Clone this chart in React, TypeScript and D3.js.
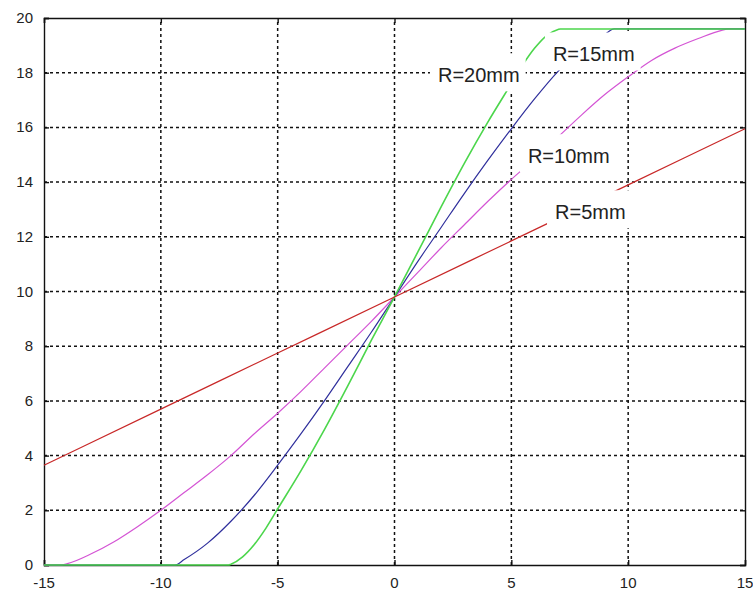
import React, { useEffect, useRef } from 'react';
import * as d3 from 'd3';

// x ticks / y ticks
const xTicks = [-15, -10, -5, 0, 5, 10, 15];
const yTicks = [0, 2, 4, 6, 8, 10, 12, 14, 16, 18, 20];

// R=5mm (red)
const r5X = [-15, -10, -5, 0, 5, 10, 15];
const r5Y = [3.65, 5.7, 7.75, 9.8, 11.85, 13.9, 15.95];

// R=10mm (magenta)
const r10X = [-15, -14.3, -14, -13, -12, -11, -10, -9, -8, -7, -6, -5, -4, -3, -2, -1, 0, 1, 2, 3, 4, 5, 6, 7, 8, 9, 10, 11, 12, 13, 14, 14.3, 15];
const r10Y = [0, 0, 0.05, 0.4, 0.85, 1.4, 2.0, 2.65, 3.3, 4.0, 4.8, 5.55, 6.35, 7.2, 8.05, 8.9, 9.8, 10.7, 11.6, 12.45, 13.3, 14.1, 14.85, 15.65, 16.45, 17.2, 17.85, 18.45, 18.9, 19.25, 19.55, 19.6, 19.6];

// R=15mm (blue)
const r15X = [-15, -9.4, -9, -8, -7, -6, -5, -4, -3, -2, -1, 0, 1, 2, 3, 4, 5, 6, 7, 8, 9, 9.4, 15];
const r15Y = [0, 0, 0.2, 0.8, 1.6, 2.55, 3.65, 4.8, 6.0, 7.25, 8.5, 9.8, 11.1, 12.35, 13.6, 14.8, 15.95, 17.05, 18.05, 18.85, 19.4, 19.6, 19.6];

// R=20mm (green)
const r20X = [-15, -7.1, -7, -6.5, -6, -5.5, -5, -4, -3, -2, -1, 0, 1, 2, 3, 4, 5, 5.5, 6, 6.5, 7, 7.1, 15];
const r20Y = [0, 0, 0.03, 0.3, 0.75, 1.35, 2.05, 3.45, 4.95, 6.55, 8.2, 9.8, 11.45, 13.1, 14.7, 16.2, 17.6, 18.3, 18.9, 19.35, 19.58, 19.6, 19.6];

const labels = ['R=20mm', 'R=15mm', 'R=10mm', 'R=5mm'];

const App = () => {
    const ref = useRef<SVGSVGElement>(null);

    useEffect(() => {
        const width = 753;
        const height = 591;
        const margin = { top: 18, right: 8, bottom: 26, left: 44 };

        const svg = d3.select(ref.current);
        svg.selectAll('*').remove();

        const x = d3.scaleLinear()
            .domain([-15, 15])
            .range([margin.left, width - margin.right]);

        const y = d3.scaleLinear()
            .domain([0, 20])
            .range([height - margin.bottom, margin.top]);

        const font = 'Arial, "Liberation Sans", sans-serif';

        // grid (dotted)
        const grid = svg.append('g')
            .attr('stroke', '#111')
            .attr('stroke-width', 1.5)
            .attr('stroke-dasharray', '3,3');
        grid.selectAll('line.v')
            .data(xTicks.slice(1, -1))
            .enter().append('line')
            .attr('x1', d => x(d)).attr('x2', d => x(d))
            .attr('y1', y(0)).attr('y2', y(20));
        grid.selectAll('line.h')
            .data(yTicks.slice(1, -1))
            .enter().append('line')
            .attr('x1', x(-15)).attr('x2', x(15))
            .attr('y1', d => y(d)).attr('y2', d => y(d));

        // axes (ticks inward, frame)
        const axisB = d3.axisBottom(x).tickValues(xTicks).tickSize(-5).tickFormat(() => '');
        const axisT = d3.axisTop(x).tickValues(xTicks).tickSize(-5).tickFormat(() => '');
        const axisL = d3.axisLeft(y).tickValues(yTicks).tickSize(-5).tickFormat(() => '');
        const axisR = d3.axisRight(y).tickValues(yTicks).tickSize(-5).tickFormat(() => '');
        [
            [axisB, `translate(0,${y(0)})`],
            [axisT, `translate(0,${y(20)})`],
            [axisL, `translate(${x(-15)},0)`],
            [axisR, `translate(${x(15)},0)`],
        ].forEach(([ax, tr]: any) => {
            const g = svg.append('g').attr('transform', tr).call(ax);
            g.selectAll('path, line').attr('stroke', '#111').attr('stroke-width', 1.4);
        });

        // tick labels
        svg.append('g').selectAll('text')
            .data(xTicks)
            .enter().append('text')
            .attr('x', d => x(d))
            .attr('y', 588)
            .attr('text-anchor', 'middle')
            .attr('font-family', font)
            .attr('font-size', 15)
            .attr('fill', '#222')
            .text(d => String(d));
        svg.append('g').selectAll('text')
            .data(yTicks)
            .enter().append('text')
            .attr('x', 33)
            .attr('y', d => y(d) + 5)
            .attr('text-anchor', 'end')
            .attr('font-family', font)
            .attr('font-size', 15)
            .attr('fill', '#222')
            .text(d => String(d));

        // curves
        const series = [
            { xs: r10X, ys: r10Y, color: '#d454d4', w: 1.2 },
            { xs: r15X, ys: r15Y, color: '#2f2f9c', w: 1.2 },
            { xs: r20X, ys: r20Y, color: '#4cd64c', w: 1.6 },
            { xs: r5X, ys: r5Y, color: '#c82828', w: 1.2 },
        ];
        const line = d3.line().curve(d3.curveMonotoneX);
        series.forEach(s => {
            const pts = s.xs.map((v, i) => [x(v), y(s.ys[i])] as [number, number]);
            svg.append('path')
                .attr('d', line(pts))
                .attr('fill', 'none')
                .attr('stroke', s.color)
                .attr('stroke-width', s.w);
        });

        // curve labels with white boxes
        const labelAt = [
            [1.86, 17.65],
            [6.78, 18.41],
            [5.71, 14.69],
            [6.87, 12.64],
        ];
        labels.forEach((t, i) => {
            const g = svg.append('g');
            const rect = g.append('rect').attr('fill', '#fff');
            const txt = g.append('text')
                .attr('x', x(labelAt[i][0]))
                .attr('y', y(labelAt[i][1]))
                .attr('font-family', font)
                .attr('font-size', 20)
                .attr('fill', '#222')
                .text(t);
            const bb = (txt.node() as SVGTextElement).getBBox();
            rect.attr('x', bb.x - 8)
                .attr('y', bb.y - 11)
                .attr('width', bb.width + 14)
                .attr('height', bb.height + 16);
        });
    }, []);

    return (
        <svg
            ref={ref}
            width={753}
            height={591}
            style={{ position: 'absolute', left: 0, top: 0, background: '#fff' }}
        />
    );
};

export default App;
